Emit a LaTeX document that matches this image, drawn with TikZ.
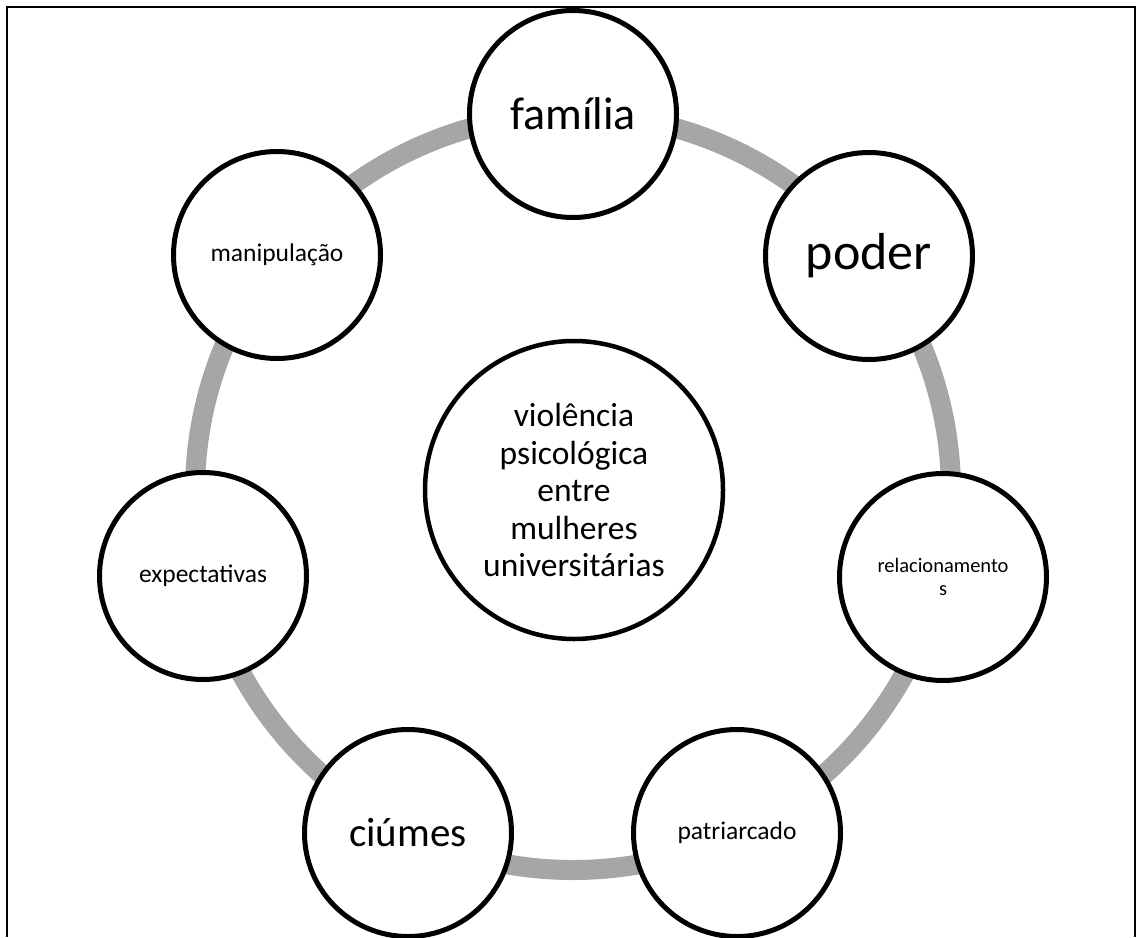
\documentclass[tikz,border=0pt]{standalone}
\usepackage{fontspec}
\setmainfont{Carlito}
\definecolor{ringgray}{HTML}{A6A6A6}
\begin{document}
\begin{tikzpicture}[x=1pt,y=-1pt,
  outer/.style={circle,draw=black,line width=5pt,fill=white,minimum size=207pt,inner sep=0pt,align=center,text=black},
  inner/.style={circle,draw=black,line width=4.5pt,fill=white,minimum size=298pt,inner sep=0pt,align=center,text=black},
  ring/.style={draw=ringgray,line width=20pt},
  frame/.style={draw=black,line width=2pt}]
\useasboundingbox (0,0) rectangle (1142,937);
% frame (open at bottom)
\coordinate (fbl) at (6.5,937);
\coordinate (ftl) at (6.5,6.5);
\coordinate (ftr) at (1134.5,6.5);
\coordinate (fbr) at (1134.5,937);
\draw[frame] (fbl) -- (ftl) -- (ftr) -- (fbr);
% ring
\coordinate (ringc) at (573,492);
\draw[ring] (ringc) circle[radius=378];
% outer circles
\node[outer,font=\fontsize{46}{55}\selectfont] (familia) at (573,114) {família};
\node[outer,font=\fontsize{52}{62}\selectfont] (poder) at (869,256) {poder};
\node[outer,font=\fontsize{20.5}{23}\selectfont] (relac) at (943,577) {relacionamento\\s};
\node[outer,font=\fontsize{25.5}{30}\selectfont] (patri) at (737,833) {patriarcado};
\node[outer,font=\fontsize{41}{49}\selectfont] (ciumes) at (408,833) {ciúmes};
\node[outer,font=\fontsize{25.5}{30}\selectfont] (expec) at (203,576) {expectativas};
\node[outer,font=\fontsize{25.5}{30}\selectfont] (manip) at (277,255) {manipulação};
% center
\node[inner,font=\fontsize{33.5}{37.5}\selectfont] (centro) at (574,490) {violência\\psicológica\\entre\\mulheres\\universitárias};
\end{tikzpicture}
\end{document}
